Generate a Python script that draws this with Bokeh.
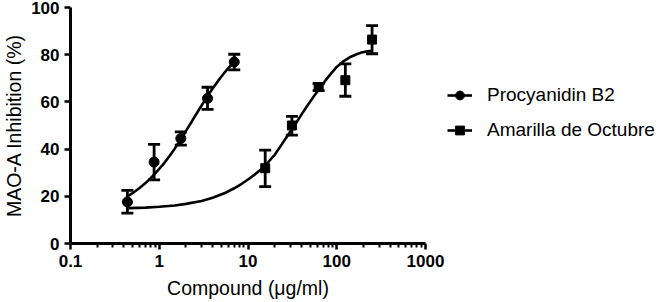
from bokeh.plotting import figure
from bokeh.models import (ColumnDataSource, Whisker, TeeHead, FixedTicker,
                          CustomJSTickFormatter, Legend, LegendItem, Range1d)
from bokeh.embed import file_html
from bokeh.resources import INLINE

# ---- data ----
series_names = ["Procyanidin B2", "Amarilla de Octubre"]

pb2_conc = [0.4375, 0.875, 1.75, 3.5, 7.0]
pb2_mean = [17.6, 34.5, 44.5, 61.5, 76.9]
pb2_upper = [22.5, 42.0, 47.3, 66.2, 80.2]
pb2_lower = [12.9, 27.0, 41.7, 56.8, 73.6]

ado_conc = [15.625, 31.25, 62.5, 125.0, 250.0]
ado_mean = [31.9, 50.0, 66.3, 69.2, 86.4]
ado_upper = [39.6, 53.9, 67.8, 76.1, 92.3]
ado_lower = [24.1, 45.9, 64.8, 62.4, 80.4]

# fitted curves
pb2_fit_x = [0.43, 0.5, 0.6, 0.7, 0.8, 0.9, 1.0, 1.15, 1.3, 1.5, 1.75, 2.0,
             2.3, 2.65, 3.0, 3.5, 4.0, 4.6, 5.2, 6.0, 7.0]
pb2_fit_y = [19.8, 21.3, 23.5, 25.6, 27.7, 29.7, 31.6, 34.3, 37.0, 40.3, 44.3,
             47.7, 51.4, 55.2, 58.5, 62.5, 65.7, 68.9, 71.5, 74.3, 77.0]

ado_fit_x = [0.45, 0.7, 1.0, 1.5, 2.0, 3.0, 4.0, 5.5, 7.0, 8.5, 10.0, 12.0,
             14.0, 17.0, 20.0, 24.0, 28.0, 34.0, 40.0, 47.0, 55.0, 65.0, 75.0,
             87.0, 100.0, 120.0, 140.0, 165.0, 190.0, 220.0, 250.0]
ado_fit_y = [15.0, 15.2, 15.6, 16.1, 16.8, 18.0, 19.4, 21.4, 23.4, 25.3, 27.1,
             29.3, 31.4, 34.6, 37.6, 42.0, 45.8, 50.4, 54.6, 58.6, 62.3, 66.0,
             69.2, 72.2, 74.8, 77.3, 78.9, 80.1, 80.9, 81.4, 81.7]

x_tick_values = [0.1, 1, 10, 100, 1000]
y_tick_values = [0, 20, 40, 60, 80, 100]

x_title = "Compound (\u03bcg/ml)"
y_title = "MAO-A Inhibition (%)"

FONT = "Liberation Sans"

p = figure(frame_width=355, frame_height=236, x_axis_type="log",
           x_range=Range1d(0.1, 1000), y_range=Range1d(0, 100),
           output_backend="svg", toolbar_location=None,
           min_border_left=66, min_border_right=241,
           min_border_top=7, min_border_bottom=59)
p.xgrid.visible = False
p.ygrid.visible = False
p.outline_line_color = None
p.background_fill_color = "white"
p.border_fill_color = "white"

# curves
l1 = p.line(pb2_fit_x, pb2_fit_y, line_color="black", line_width=2.6)
l2 = p.line(ado_fit_x, ado_fit_y, line_color="black", line_width=2.6)

# error bars
src1 = ColumnDataSource(dict(x=pb2_conc, y=pb2_mean, upper=pb2_upper, lower=pb2_lower))
src2 = ColumnDataSource(dict(x=ado_conc, y=ado_mean, upper=ado_upper, lower=ado_lower))
for src in (src1, src2):
    w = Whisker(base="x", upper="upper", lower="lower", source=src,
                line_color="black", line_width=2.8,
                upper_head=TeeHead(size=12, line_color="black", line_width=2.8),
                lower_head=TeeHead(size=12, line_color="black", line_width=2.8))
    p.add_layout(w)

s1 = p.scatter("x", "y", source=src1, marker="circle", size=10,
               fill_color="black", line_color="black")
s2 = p.scatter("x", "y", source=src2, marker="square", size=9,
               fill_color="black", line_color="black")

# axes
minor = [m * d for d in (0.1, 1, 10, 100) for m in range(2, 10)]
p.xaxis.ticker = FixedTicker(ticks=x_tick_values, minor_ticks=minor)
p.xaxis.formatter = CustomJSTickFormatter(code="return tick.toString()")
p.yaxis.ticker = FixedTicker(ticks=y_tick_values, minor_ticks=[])

for ax in (p.xaxis[0], p.yaxis[0]):
    ax.axis_line_width = 3
    ax.axis_line_color = "black"
    ax.major_tick_line_width = 2.5
    ax.major_tick_line_color = "black"
    ax.major_tick_out = 6
    ax.major_tick_in = 0
    ax.minor_tick_line_width = 2
    ax.minor_tick_line_color = "black"
    ax.minor_tick_out = 4
    ax.minor_tick_in = 0
    ax.major_label_text_font = FONT
    ax.major_label_text_font_size = "17px"
    ax.major_label_text_font_style = "bold"
    ax.major_label_text_color = "black"
    ax.axis_label_text_font = FONT
    ax.axis_label_text_font_size = "19.5px"
    ax.axis_label_text_font_style = "normal"
    ax.axis_label_text_color = "black"

p.xaxis.axis_label = x_title
p.yaxis.axis_label = y_title
p.xaxis.major_label_standoff = 5
p.yaxis.major_label_standoff = 5
p.xaxis.axis_label_standoff = 7
p.yaxis.axis_label_standoff = 3

legend = Legend(items=[LegendItem(label=series_names[0], renderers=[l1, s1]),
                       LegendItem(label=series_names[1], renderers=[l2, s2])],
                location=(22, 102), orientation="vertical",
                glyph_width=25, glyph_height=22, label_height=22,
                spacing=13, padding=0, margin=0, label_standoff=15,
                label_text_font=FONT, label_text_font_size="19px",
                label_text_color="black",
                border_line_color=None, background_fill_alpha=0)
p.add_layout(legend, "right")

open("out.html", "w").write(file_html(p, INLINE))
